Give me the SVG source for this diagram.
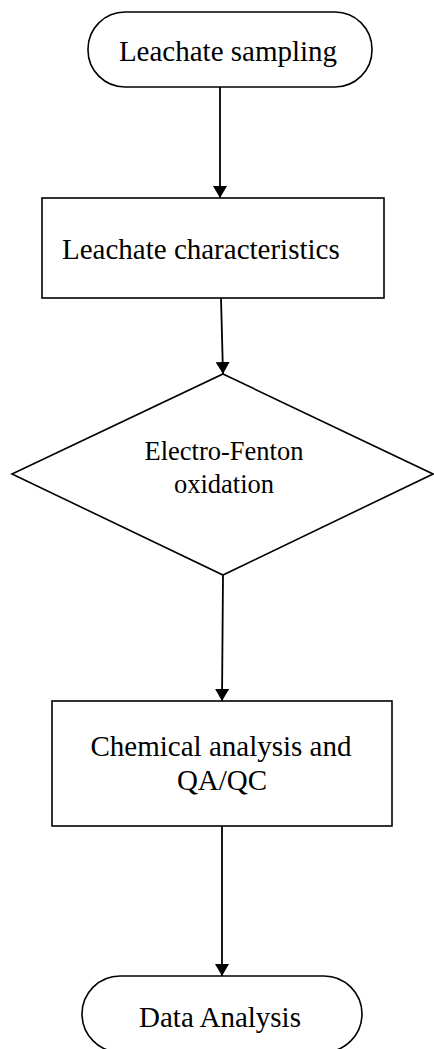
<svg xmlns="http://www.w3.org/2000/svg" width="434" height="1049" viewBox="0 0 434 1049">
<style>
.s{fill:#fff;stroke:#000;stroke-width:1.6}
.t{font-family:"Liberation Serif","Times New Roman",serif;font-size:29px;fill:#000;text-anchor:middle}
.c{stroke:#000;stroke-width:1.8;fill:none}
</style>
<defs>
<marker id="ah" markerWidth="12" markerHeight="14" refX="12" refY="7" orient="auto" markerUnits="userSpaceOnUse">
<path d="M0,0 L12,7 L0,14 Z" fill="#000"/>
</marker>
</defs>
<rect width="434" height="1049" fill="#fff"/>
<g id="connectors">
<line class="c" x1="220" y1="87" x2="220" y2="198" marker-end="url(#ah)"/>
<line class="c" x1="221" y1="298" x2="223" y2="374" marker-end="url(#ah)"/>
<line class="c" x1="223" y1="575" x2="222" y2="701" marker-end="url(#ah)"/>
<line class="c" x1="222" y1="826" x2="222" y2="976" marker-end="url(#ah)"/>
</g>
<g id="n1">
<rect class="s" x="88" y="12" width="284" height="75" rx="37" ry="37"/>
<text class="t" x="228" y="61">Leachate sampling</text>
</g>
<g id="n2">
<rect class="s" x="42" y="198" width="342" height="100"/>
<text class="t" x="62" y="259" style="text-anchor:start">Leachate characteristics</text>
</g>
<g id="n3">
<polygon class="s" points="223,374 433,474 223,575 12,474"/>
<text class="t" x="224" y="460" style="font-size:26.5px">Electro-Fenton</text>
<text class="t" x="224" y="493" style="font-size:26.5px">oxidation</text>
</g>
<g id="n4">
<rect class="s" x="52" y="701" width="340" height="125"/>
<text class="t" x="221" y="756">Chemical analysis and</text>
<text class="t" x="222" y="790">QA/QC</text>
</g>
<g id="n5">
<rect class="s" x="82" y="976" width="280" height="76" rx="38" ry="38"/>
<text class="t" x="220" y="1027">Data Analysis</text>
</g>
</svg>
